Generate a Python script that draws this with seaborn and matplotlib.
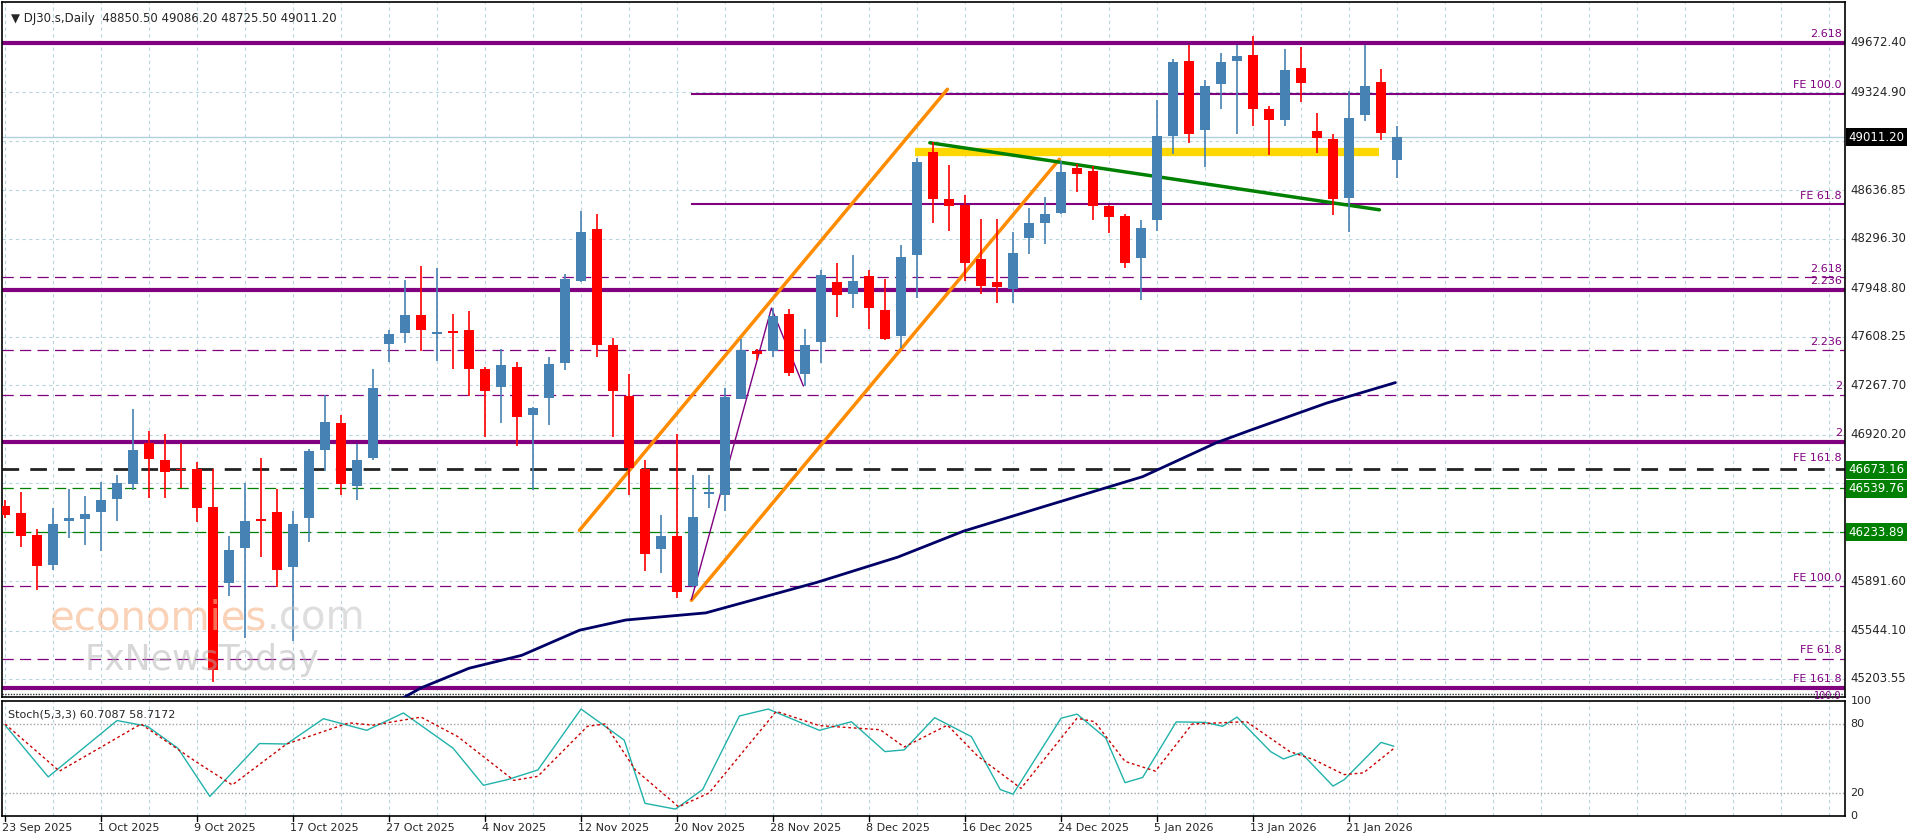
import matplotlib
matplotlib.use("Agg")
import matplotlib.pyplot as plt
import matplotlib.transforms as mtrans
import seaborn as sns
import pandas as pd
import numpy as np

sns.set_theme(style="white")
plt.rcParams["font.family"] = "DejaVu Sans"

opens = [46421,46367,46217,46007,46311,46330,46380,46471,46571,46860,
         46744,46681,46681,46415,45881,46126,46330,46377,45988,46336,
         46813,47001,46562,46753,47560,47632,47760,47628,47647,47654,
         47381,47252,47396,47058,47177,47421,47999,48366,47550,47192,
         46681,46117,46211,45856,46505,46493,47174,47506,47506,47770,
         47346,47569,47992,47911,48036,47798,47613,48181,48908,48579,
         48532,48156,47992,47942,48303,48406,48476,48792,48774,48526,
         48454,48162,48431,49018,49542,49059,49385,49542,49589,49206,
         49128,49498,49056,48996,48585,49166,49395,48850.5]
closes = [46358,46211,46000,46289,46336,46364,46462,46578,46813,46750,
          46656,46669,46402,45269,46110,46314,46311,45972,46295,46807,
          47011,46571,46744,47246,47628,47760,47654,47638,47632,47378,
          47224,47409,47042,47105,47418,48014,48344,47553,47230,46687,
          46085,46211,45812,46345,46518,47183,47512,47487,47754,47356,
          47550,48039,47898,47999,47810,47591,48165,48836,48573,48526,
          48124,47967,47958,48193,48406,48469,48767,48752,48526,48447,
          48124,48369,49018,49536,49034,49370,49536,49583,49206,49128,
          49479,49388,49003,48579,49144,49370,49043,49011.2]
highs = [46462,46515,46258,46405,46540,46487,46587,46634,47098,46948,
         46923,46860,46728,46681,46211,46578,46753,46540,46383,46822,
         47199,47058,46854,47378,47654,48005,48105,48093,47770,47792,
         47396,47519,47434,47111,47465,48052,48491,48469,47597,47346,
         46744,46358,46926,46634,46640,47246,47591,47522,47810,47801,
         47660,48077,48124,48181,48077,48014,48256,48861,48977,48814,
         48601,48438,48438,48344,48516,48588,48846,48824,48805,48532,
         48469,48428,49269,49561,49661,49410,49605,49661,49718,49232,
         49630,49646,49181,49034,49338,49661,49489,49086.2]
lows = [46336,46132,45828,45966,46195,46148,46101,46311,46534,46477,
        46477,46546,46305,45185,45787,45489,46060,45847,45467,46164,
        46665,46493,46462,46744,47428,47566,47506,47440,47384,47192,
        46901,47004,46838,46534,46989,47371,47992,47465,46901,46493,
        45960,45950,45771,45850,46408,46383,47168,47447,47465,47330,
        47261,47425,47748,47810,47660,47585,47528,47879,48406,48350,
        47999,47905,47848,47842,48187,48262,48469,48626,48428,48334,
        48093,47867,48350,48893,48971,48799,49206,49034,49087,48883,
        49087,49260,48899,48460,48344,49122,48987,48725.5]

date_labels = ["23 Sep 2025","1 Oct 2025","9 Oct 2025","17 Oct 2025","27 Oct 2025",
               "4 Nov 2025","12 Nov 2025","20 Nov 2025","28 Nov 2025","8 Dec 2025",
               "16 Dec 2025","24 Dec 2025","5 Jan 2026","13 Jan 2026","21 Jan 2026"]
date_idx = [0,6,12,18,24,30,36,42,48,54,60,66,72,78,84]

ma_idx = [24.8,26,29,32.3,35.9,38.8,43.8,50.7,55.8,59.9,64.9,71.1,75.7,77.8,82.6,86.9]
ma_val = [45066,45141,45279,45370,45546,45618,45668,45881,46060,46242,46414,46625,46863,46950,47142,47286]

k_idx = [0,2.7,7,8.9,10.8,12.8,15.9,17.6,19.9,22.6,24.9,28,29.9,31.4,33.3,36,38.7,40,41.9,43.6,
         45.9,47.7,50.9,52.9,55,56.2,58.1,60.4,62.2,63,66,67,68.8,70,71.1,73.2,75,76.1,77,79.1,
         79.9,81,83,83.7,86,86.8]
k_val = [79,34,83,78,59,17,63,62.6,84.6,74.5,89.6,59,26.7,31.6,40,93,66,11,6,23,
         87,93,74.5,82,56,57.5,85.5,69,23,19,85,88.6,67.8,29,33.5,81.8,81.4,78,86,56,
         49.6,55,26,31.6,64,60.7]
d_idx = [0,3.4,8.5,11.9,14.2,17.6,21.5,23,26,28.3,31.8,33.3,36.4,37.5,39.4,42.1,44,48.2,50.9,54.7,
         56.2,58.9,60.8,63.5,67,68.1,70,71.9,74.2,77.6,80.3,81.8,83.7,84.9,86.8]
d_val = [80,39,80,47.5,27,62.6,81,79,86,69,31,34.5,78,80,40,8,20,91,78.6,75,
         60,79,52,24,85,82,47.5,39,80,82,56,49,36,37.5,58.7]

price_ticks = [49672.40,49324.90,48636.85,48296.30,47948.80,47608.25,47267.70,46920.20,45891.60,45544.10,45203.55]
grid_prices = [49672.40,49324.90,48984.35,48636.85,48296.30,47948.80,47608.25,47267.70,46920.20,46579.65,46233.89,45891.60,45544.10,45203.55]

thick_levels = [49672.4, 47940, 46870, 45141]
thick_labels = ["2.618", "2.236", "2", "FE 161.8"]
fe_levels = [49316, 48538]
fe_labels = ["FE 100.0", "FE 61.8"]
dash_levels = [48027, 47512, 47199, 45856, 45345]
dash_labels = ["2.618", "2.236", "2", "FE 100.0", "FE 61.8"]

W, H = 1916, 840
fig = plt.figure(figsize=(W/100, H/100), dpi=100)
fig.patch.set_facecolor("white")
XL = (-0.19, 115.0)
ax = fig.add_axes([2/W, 1-697/H, (1845-2)/W, 695/H])
ax2 = fig.add_axes([2/W, 1-816/H, (1845-2)/W, 115/H])
PURPLE = "#800080"

for a in (ax, ax2):
    a.set_xlim(*XL)
    for s in a.spines.values():
        s.set_color("black"); s.set_linewidth(1.2)
    a.set_xticks([]); a.set_yticks([])
    for gx in range(0, 115, 3):
        a.axvline(gx, color="#b8d4dc", ls=(0, (3, 3)), lw=0.8, zorder=0)

ax.set_ylim(45077, 49960)
for gp in grid_prices:
    ax.axhline(gp, color="#b8d4dc", ls=(0, (3, 3)), lw=0.8, zorder=0)

for lv, lb in zip(thick_levels, thick_labels):
    ax.axhline(lv, color=PURPLE, lw=3, zorder=2)
    ax.text(114.8, lv + 25, lb, color=PURPLE, fontsize=8, ha="right", va="bottom")
for lv, lb in zip(fe_levels, fe_labels):
    ax.hlines(lv, 42.9, 115, color=PURPLE, lw=1.5, zorder=2)
    ax.text(114.8, lv + 25, lb, color=PURPLE, fontsize=8, ha="right", va="bottom")
for lv, lb in zip(dash_levels, dash_labels):
    ax.axhline(lv, color=PURPLE, lw=0.9, ls=(0, (9, 5)), zorder=2)
    ax.text(114.8, lv + 25, lb, color=PURPLE, fontsize=8, ha="right", va="bottom")
ax.text(114.8, 46720, "FE 161.8", color=PURPLE, fontsize=8, ha="right", va="bottom")
ax.text(114.8, 45120, "100.0", color=PURPLE, fontsize=7, ha="right", va="top")
ax.axhline(45095, color="#333333", lw=1, ls=(0, (1, 1)), zorder=2)
ax.axhline(46681, color="#222222", lw=2, ls=(0, (6, 4)), zorder=2)
ax.axhline(46546, color="#008000", lw=0.9, ls=(0, (9, 5)), zorder=2)
ax.axhline(46234, color="#008000", lw=0.9, ls=(0, (9, 5)), zorder=2)
ax.axhline(49011.2, color="#b0d0dc", lw=1, zorder=1)

sns.lineplot(x=ma_idx, y=ma_val, ax=ax, color="#000066", lw=2, zorder=3, estimator=None, sort=False)

ax.plot([35.9, 58.9], [46248, 49347], color="#ff8c00", lw=2.5, zorder=3)
ax.plot([42.9, 65.9], [45756, 48855], color="#ff8c00", lw=2.5, zorder=3)
ax.plot([42.9, 47.9, 49.9], [45762, 47810, 47262], color=PURPLE, lw=1, zorder=3)
ax.plot([56.9, 85.9], [48908, 48908], color="#ffd700", lw=6, zorder=3, solid_capstyle="butt")
ax.plot([57.8, 85.9], [48971, 48500], color="#008000", lw=2.5, zorder=4)

df = pd.DataFrame({"o": opens, "h": highs, "l": lows, "c": closes})
df["i"] = np.arange(len(df))
for r in df.itertuples():
    col = "#4682B4" if r.c >= r.o else "#FF0000"
    ax.vlines(r.i, r.l, r.h, color=col, lw=1.2, zorder=5)
    lo, hi = min(r.o, r.c), max(r.o, r.c)
    ax.bar(r.i, max(hi - lo, 8), bottom=lo, width=0.66, color=col, zorder=6, linewidth=0)

# watermark
t1 = ax.text(2.8, 45630, "economies", fontsize=29, color="#f5b48a", alpha=0.6, va="center", zorder=7)
ax.annotate(".com", xy=(1, 0.5), xycoords=t1, va="center", ha="left",
            fontsize=29, color="#c8c8c8", alpha=0.6, zorder=7)
ax.text(5.0, 45335, "FxNewsToday", fontsize=25, color="#b0b0b0", alpha=0.5, va="center", zorder=7)

ax.text(0.005, 0.985, "\u25BC DJ30.s,Daily  48850.50 49086.20 48725.50 49011.20",
        transform=ax.transAxes, fontsize=8.5, va="top", ha="left")

tr = mtrans.blended_transform_factory(ax.transAxes, ax.transData)
for p in price_ticks:
    ax.text(1.003, p, f"{p:.2f}", transform=tr, fontsize=8.5, va="center", ha="left", clip_on=False)
for p, txt, bg in [(49011.2, "49011.20", "black"), (46673.16, "46673.16", "#008000"),
                   (46539.76, "46539.76", "#008000"), (46233.89, "46233.89", "#008000")]:
    ax.text(1.002, p, txt, transform=tr, fontsize=8.5, va="center", ha="left", color="white",
            clip_on=False, bbox=dict(boxstyle="square,pad=0.2", fc=bg, ec="none"))

ax2.set_ylim(0, 100)
for lv in (20, 80):
    ax2.axhline(lv, color="#a0a0a0", ls=(0, (1, 1.5)), lw=1, zorder=1)
sns.lineplot(x=k_idx, y=k_val, ax=ax2, color="#20b2aa", lw=1, estimator=None, sort=False)
sns.lineplot(x=d_idx, y=d_val, ax=ax2, color="#cc0000", lw=1, ls=(0, (2, 2)), estimator=None, sort=False)
ax2.text(0.003, 0.93, "Stoch(5,3,3) 60.7087 58.7172", transform=ax2.transAxes, fontsize=8, va="top")
tr2 = mtrans.blended_transform_factory(ax2.transAxes, ax2.transData)
for v in (100, 80, 20, 0):
    ax2.text(1.003, v, str(v), transform=tr2, fontsize=8, va="center", ha="left", clip_on=False)
ax2.set_xlabel(""); ax2.set_ylabel(""); ax.set_xlabel(""); ax.set_ylabel("")
ax2.set_xticks([]); ax2.set_yticks([])
ax.set_xticks([]); ax.set_yticks([])

trd = mtrans.blended_transform_factory(ax2.transData, ax2.transAxes)
for i, lb in zip(date_idx, date_labels):
    ax2.text(i - 0.2, -0.06, lb, transform=trd, fontsize=8, va="top", ha="left", clip_on=False)
    ax2.plot([i, i], [-0.04, 0], transform=trd, color="black", lw=1, clip_on=False)

fig.savefig("out.png", dpi=100)
